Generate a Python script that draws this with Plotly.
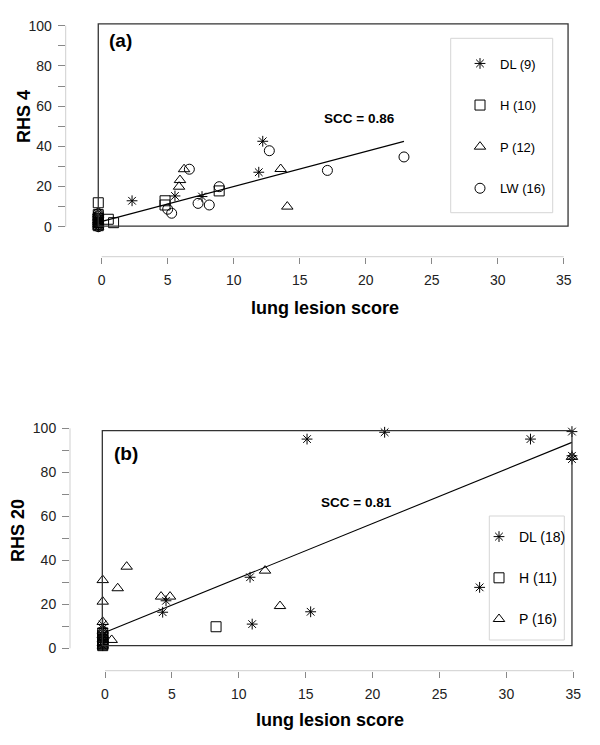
import plotly.graph_objects as go

# ---------------- data: panel (a) RHS 4 ----------------
a_DL_x = [-0.26, -0.26, -0.26, -0.26, 2.3, 5.55, 7.6, 11.9, 12.2]
a_DL_y = [0, 1.2, 2.5, 4, 12.9, 15.3, 15.0, 27.1, 42.5]
a_H_x = [-0.26, -0.26, -0.26, -0.26, -0.26, 0.5, 0.9, 4.8, 4.8, 8.9]
a_H_y = [0.5, 2, 4, 6, 11.9, 3.7, 2.0, 12.9, 10.8, 17.8]
a_P_x = [-0.26, -0.26, -0.26, -0.26, -0.26, -0.26, -0.26, 5.86, 5.93, 6.24, 13.56, 14.06]
a_P_y = [0, 1, 2, 3, 4.5, 6, 7, 19.9, 23.2, 28.6, 28.7, 10.0]
a_LW_x = [-0.26, -0.26, -0.26, -0.26, -0.26, -0.26, -0.26, 5.0, 5.3, 6.64, 7.3, 8.15, 8.9, 12.7, 17.1, 22.9]
a_LW_y = [0, 1, 2, 3, 4, 5, 6.5, 8.7, 6.7, 28.6, 11.6, 10.8, 19.9, 37.8, 28.0, 34.7]
a_fit_x = [-0.26, 22.9]
a_fit_y = [2.15, 42.45]
a_names = ["DL (9)", "H (10)", "P (12)", "LW (16)"]

# ---------------- data: panel (b) RHS 20 ----------------
b_DL_x = [-0.17, -0.17, -0.17, -0.17, -0.17, -0.17, 4.31, 4.56, 10.84, 11.0, 15.1, 15.37, 20.9, 28.0, 31.8, 34.9, 34.9, 34.9]
b_DL_y = [1.2, 2.5, 4, 6, 9, 10.8, 16.4, 21.6, 32.3, 11.0, 95.1, 16.6, 98.2, 27.7, 95.1, 98.5, 87.5, 86.0]
b_H_x = [-0.17, -0.17, -0.17, -0.17, -0.17, -0.17, -0.17, -0.17, -0.17, -0.17, 8.3]
b_H_y = [1.2, 1.6, 2, 2.5, 3, 3.5, 4, 5, 6, 7, 9.8]
b_P_x = [-0.17, -0.17, -0.17, -0.17, -0.17, -0.17, -0.17, -0.17, 0.5, 0.95, 1.62, 4.19, 4.86, 11.96, 13.08, 34.9]
b_P_y = [1.2, 2.5, 4, 6, 8, 12, 21.2, 31.0, 3.8, 27.3, 37.1, 23.5, 23.5, 35.3, 19.2, 87.0]
b_fit_x = [-0.17, 34.9]
b_fit_y = [6.8, 93.6]
b_names = ["DL (18)", "H (11)", "P (16)"]

x_ticks = [0, 5, 10, 15, 20, 25, 30, 35]
y_ticks = [0, 10, 20, 30, 40, 50, 60, 70, 80, 90, 100]
y_ticklabels = ["0", "", "20", "", "40", "", "60", "", "80", "", "100"]

# page body has an 8px default margin: draw in a 592x737 figure offset by 8px
OFF = 8
W, H = 600 - OFF, 745 - OFF
FONT = "Liberation Sans, Arial, Helvetica, sans-serif"


def PX(px):
    return (px - OFF) / W


def PY(py):
    return 1 - (py - OFF) / H


fig = go.Figure()

sym = {"DL": "asterisk-open", "H": "square-open", "P": "triangle-up-open", "LW": "circle-open"}
size = {"DL": 9, "H": 10, "P": 10, "LW": 10}


def add_pts(xs, ys, key, name, xa, ya, legend):
    fig.add_trace(go.Scatter(
        x=xs, y=ys, mode="markers", name=name, xaxis=xa, yaxis=ya,
        legend=legend, legendgroup=legend + key, cliponaxis=False,
        marker=dict(symbol=sym[key], size=size[key], color="black",
                    line=dict(color="black", width=1)),
    ))


add_pts(a_DL_x, a_DL_y, "DL", a_names[0], "x", "y", "legend")
add_pts(a_H_x, a_H_y, "H", a_names[1], "x", "y", "legend")
add_pts(a_P_x, a_P_y, "P", a_names[2], "x", "y", "legend")
add_pts(a_LW_x, a_LW_y, "LW", a_names[3], "x", "y", "legend")
fig.add_trace(go.Scatter(x=a_fit_x, y=a_fit_y, mode="lines", showlegend=False,
                         xaxis="x", yaxis="y", line=dict(color="black", width=1.1)))

add_pts(b_DL_x, b_DL_y, "DL", b_names[0], "x2", "y2", "legend2")
add_pts(b_H_x, b_H_y, "H", b_names[1], "x2", "y2", "legend2")
add_pts(b_P_x, b_P_y, "P", b_names[2], "x2", "y2", "legend2")
fig.add_trace(go.Scatter(x=b_fit_x, y=b_fit_y, mode="lines", showlegend=False,
                         xaxis="x2", yaxis="y2", line=dict(color="black", width=1.1)))

# axis geometry (pixel based, in page pixels)
# panel a: px = 101.7 + 13.2*x ; py = 226.7 - 2.01*y
ax_l, ax_r, ax_t, ax_b = 65.7, 590, 12, 256.7
a_x0 = (ax_l - 101.7) / 13.2
a_x1 = (ax_r - 101.7) / 13.2
a_y0 = (226.7 - ax_b) / 2.01
a_y1 = (226.7 - ax_t) / 2.01
# panel b: px = 105 + 13.38*x ; py = 648.3 - 2.2*y
bx_l, bx_r, bx_t, bx_b = 70, 590, 410, 670.7
b_x0 = (bx_l - 105) / 13.38
b_x1 = (bx_r - 105) / 13.38
b_y0 = (648.3 - bx_b) / 2.2
b_y1 = (648.3 - bx_t) / 2.2

tickfont = dict(family=FONT, size=14, color="#222")
common_x = dict(tickvals=x_ticks, ticks="outside", ticklen=6, tickcolor="#888",
                showgrid=False, zeroline=False, showline=False, tickfont=tickfont,
                ticklabelstandoff=4)
common_y = dict(tickvals=y_ticks, ticktext=y_ticklabels, ticks="outside", ticklen=7,
                tickcolor="#888", showgrid=False, zeroline=False, showline=False,
                tickfont=tickfont, ticklabelstandoff=3)

fig.update_layout(
    width=W, height=H, autosize=False,
    margin=dict(l=0, r=0, t=0, b=0),
    paper_bgcolor="white", plot_bgcolor="white",
    font=dict(family=FONT, color="black"),
    xaxis=dict(domain=[PX(ax_l), PX(ax_r)], range=[a_x0, a_x1], anchor="y", **common_x),
    yaxis=dict(domain=[PY(ax_b), PY(ax_t)], range=[a_y0, a_y1], anchor="x", **common_y),
    xaxis2=dict(domain=[PX(bx_l), PX(bx_r)], range=[b_x0, b_x1], anchor="y2", **common_x),
    yaxis2=dict(domain=[PY(bx_b), PY(bx_t)], range=[b_y0, b_y1], anchor="x2", **common_y),
    legend=dict(x=PX(460), y=PY(48.5), xanchor="left", yanchor="top",
                bgcolor="rgba(0,0,0,0)", borderwidth=0, tracegroupgap=21.7,
                font=dict(family=FONT, size=13, color="black")),
    legend2=dict(x=PX(479), y=PY(521), xanchor="left", yanchor="top",
                 bgcolor="rgba(0,0,0,0)", borderwidth=0, tracegroupgap=20,
                 font=dict(family=FONT, size=14, color="black")),
)

shapes = []
# axis lines
for xa, ya in (("x", "y"), ("x2", "y2")):
    shapes.append(dict(type="line", xref=xa + " domain", yref=ya, x0=0, x1=0, y0=0, y1=100,
                       line=dict(color="#cfcfcf", width=1)))
    shapes.append(dict(type="line", xref=xa, yref=ya + " domain", x0=0, x1=35, y0=0, y1=0,
                       line=dict(color="#cfcfcf", width=1)))
# frames around panels
shapes.append(dict(type="rect", xref="x", yref="y", x0=-0.26, x1=35.33, y0=0.3, y1=100.9,
                   line=dict(color="#333", width=1.3)))
shapes.append(dict(type="rect", xref="x2", yref="y2", x0=-0.2, x1=34.9, y0=1.2, y1=98.9,
                   line=dict(color="#333", width=1.3)))
# legend frames
shapes.append(dict(type="rect", xref="paper", yref="paper", x0=PX(450.7), x1=PX(552.7),
                   y0=PY(212.7), y1=PY(38.3), line=dict(color="#d5d5d5", width=1)))
shapes.append(dict(type="rect", xref="paper", yref="paper", x0=PX(489.3), x1=PX(564.3),
                   y0=PY(640), y1=PY(516), line=dict(color="#d5d5d5", width=1)))
fig.update_layout(shapes=shapes)

bold = dict(family=FONT, size=18, color="black")
ann = [
    dict(text="<b>RHS 4</b>", x=PX(24), y=PY(117), textangle=-90, font=bold),
    dict(text="<b>RHS 20</b>", x=PX(18), y=PY(531), textangle=-90, font=bold),
    dict(text="<b>lung lesion score</b>", x=PX(325), y=PY(308), font=bold),
    dict(text="<b>lung lesion score</b>", x=PX(330), y=PY(720), font=bold),
    dict(text="<b>(a)</b>", x=PX(120.5), y=PY(40), font=dict(family=FONT, size=19, color="black")),
    dict(text="<b>(b)</b>", x=PX(126), y=PY(453.5), font=dict(family=FONT, size=19, color="black")),
    dict(text="<b>SCC = 0.86</b>", x=PX(359), y=PY(118.5), font=dict(family=FONT, size=13.5, color="black")),
    dict(text="<b>SCC = 0.81</b>", x=PX(356), y=PY(502.5), font=dict(family=FONT, size=13.5, color="black")),
]
for a in ann:
    a.update(xref="paper", yref="paper", showarrow=False, xanchor="center", yanchor="middle")
fig.update_layout(annotations=ann)

fig.write_html("out.html")
